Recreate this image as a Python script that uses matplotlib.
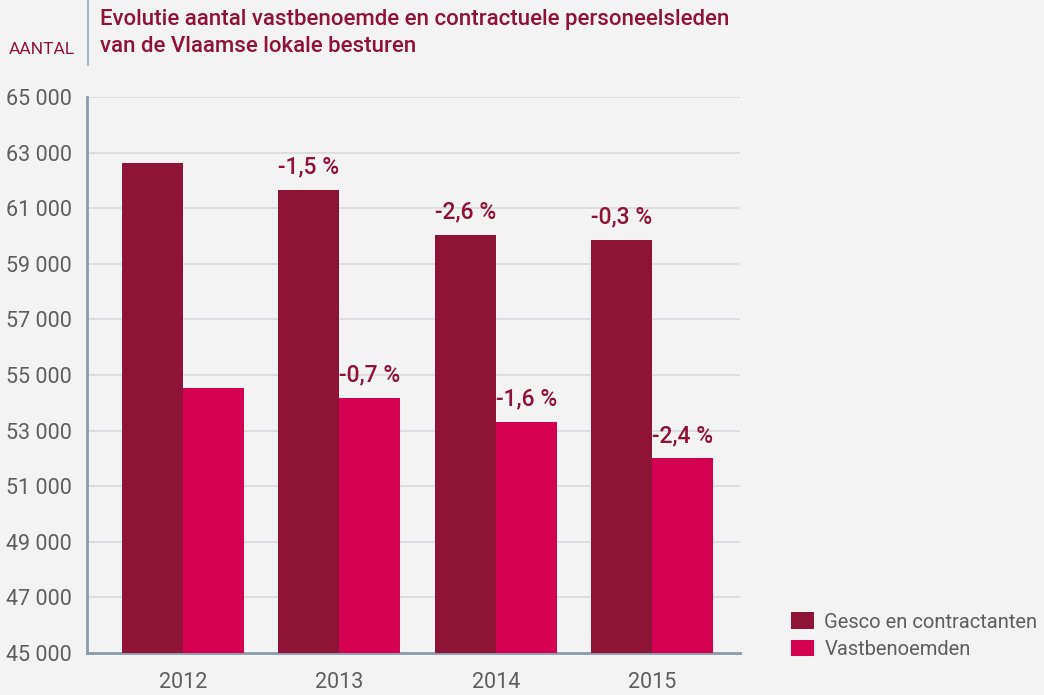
import numpy as np
import matplotlib
matplotlib.use("Agg")
import matplotlib.pyplot as plt
from matplotlib.ticker import FuncFormatter

# personeelsleden per jaar
years = ["2012", "2013", "2014", "2015"]
gesco = [62620, 61660, 60040, 59870]
vast = [54540, 54180, 53320, 52000]
gesco_change = [None, "-1,5 %", "-2,6 %", "-0,3 %"]
vast_change = [None, "-0,7 %", "-1,6 %", "-2,4 %"]
series_names = ["Gesco en contractanten", "Vastbenoemden"]
y_ticks = list(range(45000, 65001, 2000))

bg = "#F3F3F3"
maroon = "#8F1336"
pink = "#D40050"
grey_text = "#5E5E5E"
spine_col = "#8A9BAB"

plt.rcParams["font.family"] = ["Roboto", "DejaVu Sans"]

fig = plt.figure(figsize=(10.44, 6.95), dpi=100, facecolor=bg)
ax = fig.add_axes([87 / 1044, 42 / 695, (740 - 87) / 1044, (653 - 97) / 695])
ax.set_facecolor(bg)

x = np.arange(len(years))
w = 0.39
b1 = ax.bar(x - w / 2, gesco, width=w, color=maroon, label=series_names[0], zorder=3)
b2 = ax.bar(x + w / 2, vast, width=w, color=pink, label=series_names[1], zorder=3)

for bars, labels in [(b1, gesco_change), (b2, vast_change)]:
    for rect, lab in zip(bars, labels):
        if lab is None:
            continue
        ax.annotate(lab, (rect.get_x() + rect.get_width() / 2, rect.get_height()),
                    xytext=(0, 8), textcoords="offset points", ha="center", va="bottom",
                    fontsize=16.5, color=maroon, fontweight="medium")

ax.set_ylim(45000, 65000)
ax.set_xlim(-0.614, 3.563)
ax.set_yticks(y_ticks)
ax.yaxis.set_major_formatter(FuncFormatter(lambda v, p: f"{int(v):,}".replace(",", " ")))
ax.set_xticks(x)
ax.set_xticklabels(years)
ax.tick_params(axis="both", length=0, labelsize=15.5, labelcolor=grey_text)
ax.tick_params(axis="y", pad=11)
ax.tick_params(axis="x", pad=14)

ax.grid(axis="y", color="#D8D8DE", linewidth=1.2, zorder=0)
for side in ["top", "right"]:
    ax.spines[side].set_visible(False)
for side in ["left", "bottom"]:
    ax.spines[side].set_color(spine_col)
    ax.spines[side].set_linewidth(2)

# titel en eenheid
fig.text(100 / 1044, 1 - 20 / 695, "Evolutie aantal vastbenoemde en contractuele personeelsleden",
         fontsize=16, color=maroon, fontweight="medium", va="center", ha="left")
fig.text(100 / 1044, 1 - 47 / 695, "van de Vlaamse lokale besturen",
         fontsize=16, color=maroon, fontweight="medium", va="center", ha="left")
fig.text(75 / 1044, 1 - 49 / 695, "AANTAL", fontsize=12.5, color=maroon,
         va="center", ha="right")
fig.add_artist(plt.Line2D([88 / 1044, 88 / 1044], [1 - 65 / 695, 1.0],
                          transform=fig.transFigure, color="#A8B4C0", linewidth=1.5))

leg = ax.legend(loc="lower left", bbox_to_anchor=(773 / 1044, 18 / 695),
                bbox_transform=fig.transFigure, frameon=False, fontsize=14.5,
                handlelength=1.15, handleheight=0.9, handletextpad=0.5,
                labelspacing=0.4, labelcolor=grey_text)

fig.savefig("out.png", dpi=100, facecolor=bg)
